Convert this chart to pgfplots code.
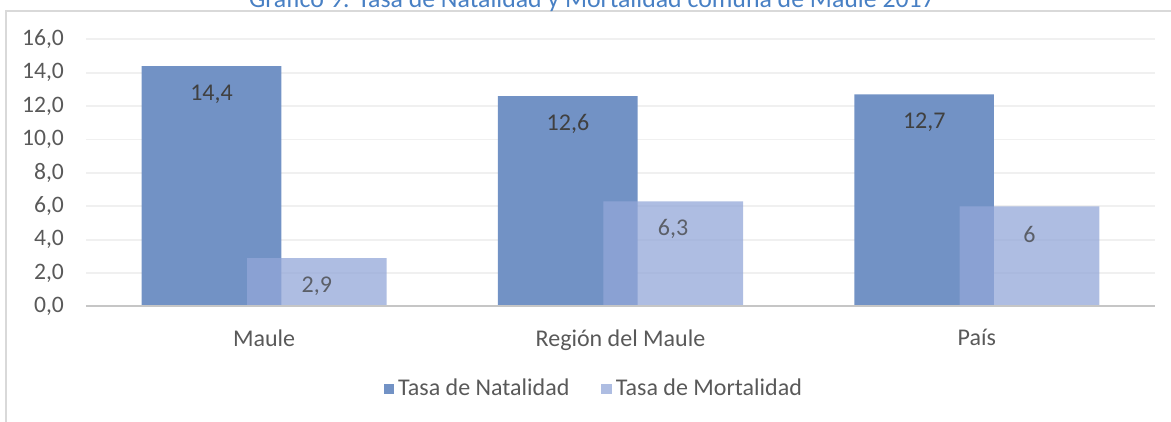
\documentclass[border=0pt]{standalone}
\usepackage{pgfplots}
\pgfplotsset{compat=1.18}
\usepackage{fontspec}
\setmainfont{Carlito}
\definecolor{darkbar}{RGB}{114,146,197}
\definecolor{lightbar}{RGB}{147,167,216}
\definecolor{tickgray}{RGB}{89,89,89}
\definecolor{lblgray}{RGB}{64,64,64}
\definecolor{titleblue}{RGB}{72,128,196}
\begin{document}
\begin{tikzpicture}
\begin{axis}[
  at={(43pt,57.75pt)}, anchor=south west,
  scale only axis,
  width=534.5pt, height=133.6pt,
  xmin=-0.5, xmax=2.5, ymin=0, ymax=16,
  xtick={0,1,2},
  xticklabels={Maule, Región del Maule, País},
  ytick={0,2,...,16},
  yticklabels={{0,0},{2,0},{4,0},{6,0},{8,0},{10,0},{12,0},{14,0},{16,0}},
  axis line style={draw=none},
  tick style={draw=none},
  ymajorgrids,
  grid style={gray!12, line width=0.9pt},
  yticklabel style={font=\fontsize{11.8}{13}\selectfont, text=tickgray, xshift=-7.5pt},
  xticklabel style={font=\fontsize{12}{14}\selectfont, text=tickgray, yshift=-8pt},
  legend style={at={(0.476,-0.309)}, anchor=center, draw=none, fill=none,
    legend columns=2, font=\fontsize{12}{14}\selectfont, text=tickgray,
    /tikz/every even column/.append style={column sep=14pt}},
  legend cell align=left,
  nodes near coords,
  point meta=explicit symbolic,
  every node near coord/.append style={anchor=center, yshift=-14pt, font=\fontsize{12}{14}\selectfont, text=lblgray},
]
\addplot[ybar, bar width=0.392, bar shift=-0.148, fill=darkbar, draw=none,
  every node near coord/.append style={xshift=-26.3pt},
  legend image code/.code={\fill[darkbar] (0pt,-2.6pt) rectangle (5.2pt,2.6pt);}]
  coordinates {(0,14.4) [14,4] (1,12.6) [12,6] (2,12.7) [12,7]};
\addlegendentry{Tasa de Natalidad}
\addplot[ybar, bar width=0.392, bar shift=0.148, fill=lightbar, fill opacity=0.75, draw=none,
  every node near coord/.append style={xshift=26.3pt},
  legend image code/.code={\fill[lightbar, fill opacity=0.75] (0pt,-2.6pt) rectangle (5.2pt,2.6pt);}]
  coordinates {(0,2.9) [2,9] (1,6.3) [6,3] (2,6.0) [6]};
\addlegendentry{Tasa de Mortalidad}
\draw[gray!45, line width=1.2pt] (rel axis cs:0,0) -- (rel axis cs:1,0);
\end{axis}
\draw[gray!30, line width=1pt] (3pt,-5pt) -- (3pt,205.5pt) -- (600pt,205.5pt);
\node[anchor=base, text=titleblue, font=\fontsize{12.9}{15}\selectfont] at (296pt,207pt)
  {Gráfico 9: Tasa de Natalidad y Mortalidad comuna de Maule 2017};
\pgfresetboundingbox
\useasboundingbox (0,0) rectangle (585.5pt,211pt);
\end{tikzpicture}
\end{document}
